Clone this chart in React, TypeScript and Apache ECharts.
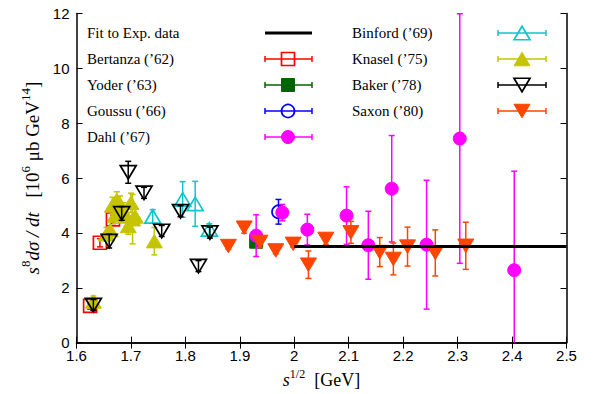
import { useEffect, useRef } from 'react';
import * as echarts from 'echarts';

// ---- data: [sqrt(s) GeV, s^8 dsigma/dt, error] ----
const fitLine = [[2.0, 3.5], [2.5, 3.5]];
const bertanza = [[1.625, 1.34, 0.12], [1.643, 3.64, 0.15], [1.667, 4.49, 0.15]];
const yoder = [[1.93, 3.68, 0.1]];
const goussu = [[1.971, 4.77, 0.45]];
const dahl = [[1.93, 3.9, 0.76], [1.978, 4.74, 0.3], [2.024, 4.12, 0.56], [2.096, 4.63, 1.05], [2.136, 3.55, 1.24], [2.179, 5.61, 1.94], [2.243, 3.57, 2.35], [2.304, 7.44, 4.55], [2.404, 2.64, 3.61]];
const binford = [[1.74, 4.6, 0.25], [1.795, 5.22, 0.65], [1.818, 5.06, 0.82], [1.844, 4.13, 0.2]];
const knasel = [[1.631, 1.5, 0.2], [1.655, 3.95, 0.25], [1.662, 4.1, 0.3], [1.666, 5.0, 0.3], [1.671, 4.65, 0.3], [1.674, 5.2, 0.3], [1.68, 5.05, 0.3], [1.686, 4.8, 0.3], [1.692, 4.6, 0.35], [1.695, 4.25, 0.3], [1.7, 5.1, 0.35], [1.703, 4.5, 0.9], [1.708, 4.6, 0.3], [1.743, 3.7, 0.5]];
const baker = [[1.631, 1.37, 0.2], [1.66, 3.7, 0.25], [1.683, 4.71, 0.25], [1.695, 6.21, 0.4], [1.724, 5.46, 0.2], [1.7565, 4.07, 0.2], [1.791, 4.79, 0.2], [1.824, 2.79, 0.2], [1.845, 4.01, 0.2]];
const saxon = [[1.879, 3.52, 0.12], [1.908, 4.19, 0.2], [1.937, 3.67, 0.2], [1.966, 3.36, 0.12], [1.998, 3.6, 0.12], [2.026, 2.84, 0.5], [2.058, 3.78, 0.2], [2.104, 4.02, 0.4], [2.157, 3.3, 0.53], [2.182, 3.05, 0.58], [2.208, 3.5, 0.71], [2.259, 3.27, 0.84], [2.315, 3.53, 0.86]];

const xMin = 1.6, xMax = 2.5, xStep = 0.1;
const yMin = 0, yMax = 12, yStep = 2;

const SERIF = 'Liberation Serif';
const SANS = 'Liberation Sans';

type Shape = 'square' | 'circle' | 'up' | 'down';

function marker(shape: Shape, cx: number, cy: number, color: string, filled: boolean): any {
  const style = { fill: filled ? color : 'none', stroke: color, lineWidth: filled ? 1 : 1.7 };
  if (shape === 'square') {
    const s = 13;
    return { type: 'rect', shape: { x: cx - s / 2, y: cy - s / 2, width: s, height: s }, style };
  }
  if (shape === 'circle') {
    return { type: 'circle', shape: { cx, cy, r: 6.5 }, style };
  }
  const w = 16, h = 13.5;
  if (shape === 'up') {
    return { type: 'polygon', shape: { points: [[cx, cy - h / 2], [cx - w / 2, cy + h / 2], [cx + w / 2, cy + h / 2]] }, style };
  }
  return { type: 'polygon', shape: { points: [[cx - w / 2, cy - h / 2], [cx + w / 2, cy - h / 2], [cx, cy + h / 2]] }, style };
}

function errSeries(name: string, data: number[][], color: string, shape: Shape, filled: boolean) {
  return {
    type: 'custom',
    name,
    data,
    renderItem: (_p: any, api: any) => {
      const x = api.value(0), y = api.value(1), e = api.value(2);
      const c = api.coord([x, y]);
      const hi = Math.min(y + e, yMax), lo = Math.max(y - e, yMin);
      const t = api.coord([x, hi]);
      const b = api.coord([x, lo]);
      const ls = { stroke: color, lineWidth: 1.5 };
      const children: any[] = [
        { type: 'line', shape: { x1: c[0], y1: t[1], x2: c[0], y2: b[1] }, style: ls },
      ];
      if (y + e <= yMax) children.push({ type: 'line', shape: { x1: c[0] - 3, y1: t[1], x2: c[0] + 3, y2: t[1] }, style: ls });
      if (y - e >= yMin) children.push({ type: 'line', shape: { x1: c[0] - 3, y1: b[1], x2: c[0] + 3, y2: b[1] }, style: ls });
      children.push(marker(shape, c[0], c[1], color, filled));
      return { type: 'group', children };
    },
  };
}

const entries: { name: string; color: string; shape: Shape; filled: boolean; data: number[][] }[] = [
  { name: 'Bertanza (’62)', color: '#ff0000', shape: 'square', filled: false, data: bertanza },
  { name: 'Yoder (’63)', color: '#006400', shape: 'square', filled: true, data: yoder },
  { name: 'Goussu (’66)', color: '#0000ff', shape: 'circle', filled: false, data: goussu },
  { name: 'Dahl (’67)', color: '#ff00ff', shape: 'circle', filled: true, data: dahl },
  { name: 'Binford (’69)', color: '#10c4cc', shape: 'up', filled: false, data: binford },
  { name: 'Knasel (’75)', color: '#c4c400', shape: 'up', filled: true, data: knasel },
  { name: 'Baker (’78)', color: '#000000', shape: 'down', filled: false, data: baker },
  { name: 'Saxon (’80)', color: '#ff4500', shape: 'down', filled: true, data: saxon },
];

function legendGraphics(): any[] {
  const g: any[] = [];
  const rowsY = [33, 59, 85, 111, 137];
  const text = (x: number, y: number, s: string) => ({
    type: 'text', x, y, style: { text: s, fill: '#000', font: `15px "${SERIF}"`, textVerticalAlign: 'middle', textAlign: 'left' },
  });
  g.push(text(87, rowsY[0], 'Fit to Exp. data'));
  g.push({ type: 'line', shape: { x1: 265, y1: rowsY[0], x2: 312, y2: rowsY[0] }, style: { stroke: '#000', lineWidth: 3 } });
  entries.forEach((en, i) => {
    const left = i < 4;
    const y = left ? rowsY[i + 1] : rowsY[i - 4];
    const tx = left ? 87 : 352;
    const cx = left ? 288 : 522;
    const x1 = left ? 265 : 498;
    const x2 = left ? 312 : 546;
    g.push(text(tx, y, en.name));
    const ls = { stroke: en.color, lineWidth: 1.5 };
    g.push({ type: 'line', shape: { x1, y1: y, x2, y2: y }, style: ls });
    g.push({ type: 'line', shape: { x1, y1: y - 3, x2: x1, y2: y + 3 }, style: ls });
    g.push({ type: 'line', shape: { x1: x2, y1: y - 3, x2, y2: y + 3 }, style: ls });
    g.push(marker(en.shape, cx, y, en.color, en.filled));
  });
  return g;
}

const axisLine = { show: true, lineStyle: { color: '#000', width: 1.5 } };
const axisTick = { show: true, inside: true, length: 6, lineStyle: { color: '#000', width: 1 } };

const nameRich = {
  i: { fontFamily: SERIF, fontStyle: 'italic', fontSize: 19, color: '#000', lineHeight: 26 },
  n: { fontFamily: SERIF, fontSize: 19, color: '#000', lineHeight: 26 },
  sup: { fontFamily: SERIF, fontSize: 13, color: '#000', lineHeight: 13, verticalAlign: 'top' },
};

export default function App() {
  const ref = useRef<HTMLDivElement>(null);
  useEffect(() => {
    if (!ref.current) return;
    const chart = echarts.init(ref.current, undefined, { renderer: 'svg' });
    const fmt = (v: number) => String(Math.round(v * 10) / 10);
    chart.setOption({
      animation: false,
      backgroundColor: '#fff',
      grid: { left: 76.5, right: 28.5, top: 13.5, bottom: 50.5, containLabel: false },
      xAxis: [
        {
          type: 'value', min: xMin, max: xMax, interval: xStep, position: 'bottom',
          axisLine, axisTick, splitLine: { show: false },
          axisLabel: { color: '#000', fontSize: 15, lineHeight: 12, fontFamily: SANS, margin: 7, formatter: fmt },
          name: '{i|s}{sup|1/2}{n|  [GeV]}',
          nameLocation: 'middle', nameGap: 25,
          nameTextStyle: {
            rich: {
              i: { ...nameRich.i, fontSize: 18, lineHeight: 24 },
              n: { ...nameRich.n, fontSize: 18, lineHeight: 24 },
              sup: { ...nameRich.sup, fontSize: 12, lineHeight: 12 },
            },
          },
        },
        {
          type: 'value', min: xMin, max: xMax, interval: xStep, position: 'top',
          axisLine, axisTick, splitLine: { show: false }, axisLabel: { show: false },
        },
      ],
      yAxis: [
        {
          type: 'value', min: yMin, max: yMax, interval: yStep, position: 'left',
          axisLine, axisTick, splitLine: { show: false },
          axisLabel: { color: '#000', fontSize: 15, lineHeight: 12, fontFamily: SANS, margin: 7 },
          name: '{i|s}{sup|8}{i|dσ / dt}{n|   [10}{sup|6}{n| μb GeV}{sup|14}{n|]}',
          nameLocation: 'middle', nameGap: 30, nameRotate: 90,
          nameTextStyle: { rich: nameRich },
        },
        {
          type: 'value', min: yMin, max: yMax, interval: yStep, position: 'right',
          axisLine, axisTick, splitLine: { show: false }, axisLabel: { show: false },
        },
      ],
      series: [
        {
          type: 'line', name: 'Fit to Exp. data', data: fitLine, symbol: 'none',
          lineStyle: { color: '#000', width: 3 }, silent: true,
        },
        ...entries.map((en) => errSeries(en.name, en.data, en.color, en.shape, en.filled)),
      ],
      graphic: legendGraphics(),
    });
    return () => chart.dispose();
  }, []);
  return <div ref={ref} style={{ width: 595, height: 394, position: 'absolute', left: 0, top: 0 }} />;
}
